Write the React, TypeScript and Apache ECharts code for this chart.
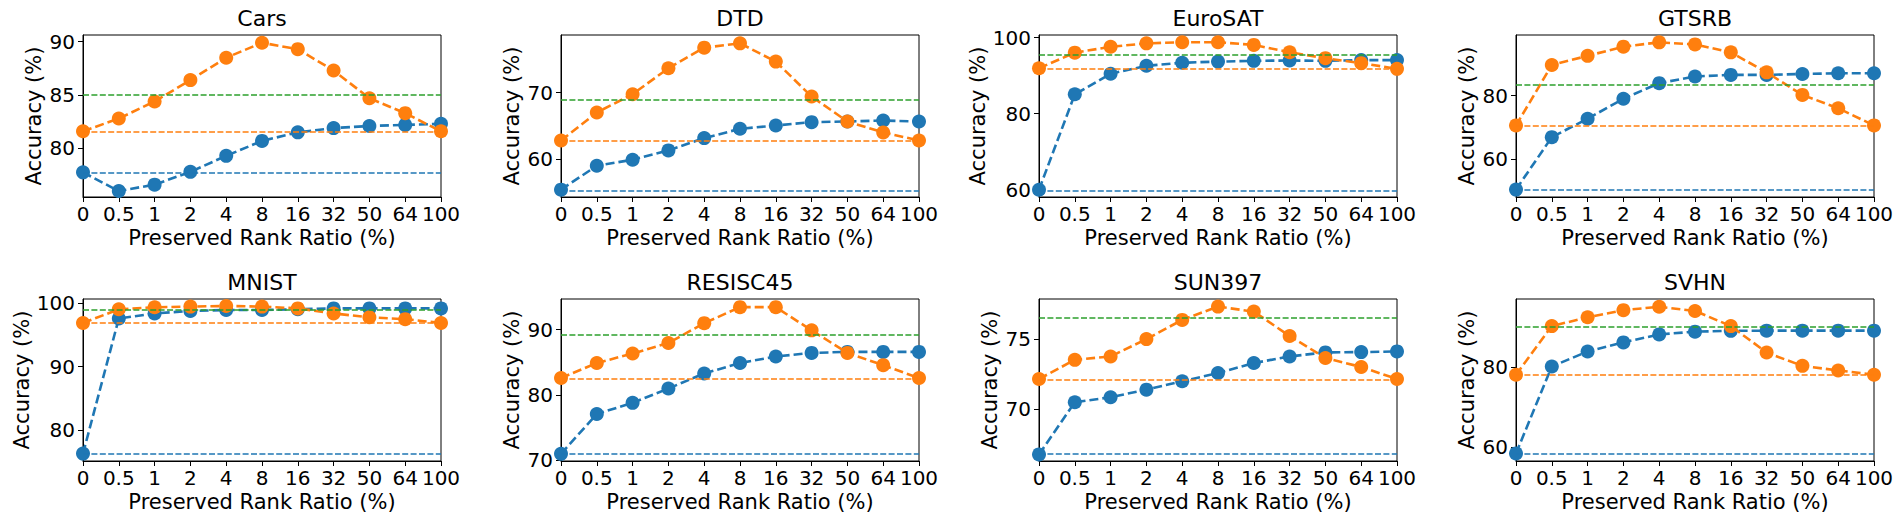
import React, { useEffect, useRef } from "react";
import * as echarts from "echarts";

const categories = ["0", "0.5", "1", "2", "4", "8", "16", "32", "50", "64", "100"];
const datasetNames = ["Cars", "DTD", "EuroSAT", "GTSRB", "MNIST", "RESISC45", "SUN397", "SVHN"];

const blueCars = [77.75, 76.0, 76.6, 77.8, 79.3, 80.7, 81.5, 81.9, 82.1, 82.2, 82.3];
const orangeCars = [81.6, 82.8, 84.4, 86.4, 88.5, 89.9, 89.3, 87.3, 84.7, 83.3, 81.6];
const blueDTD = [55.4, 59.0, 59.9, 61.3, 63.15, 64.55, 65.05, 65.55, 65.65, 65.8, 65.65];
const orangeDTD = [62.8, 67.0, 69.75, 73.65, 76.75, 77.4, 74.65, 69.4, 65.65, 64.0, 62.8];
const blueEuroSAT = [60.0, 85.1, 90.5, 92.6, 93.4, 93.7, 93.9, 94.0, 93.9, 94.1, 94.1];
const orangeEuroSAT = [91.95, 96.06, 97.6, 98.5, 98.8, 98.8, 98.1, 96.15, 94.6, 93.3, 91.8];
const blueGTSRB = [50.4, 66.9, 72.7, 79.0, 83.9, 86.0, 86.5, 86.5, 86.8, 87.0, 87.0];
const orangeGTSRB = [70.6, 89.6, 92.5, 95.4, 96.75, 96.1, 93.6, 87.3, 80.2, 76.0, 70.6];
const blueMNIST = [76.3, 97.6, 98.4, 98.8, 98.95, 98.95, 99.06, 99.2, 99.2, 99.2, 99.2];
const orangeMNIST = [96.9, 99.06, 99.37, 99.48, 99.58, 99.48, 99.2, 98.4, 97.8, 97.5, 96.9];
const blueRESISC45 = [71.0, 77.1, 78.8, 81.0, 83.3, 84.9, 85.9, 86.45, 86.6, 86.6, 86.6];
const orangeRESISC45 = [82.6, 84.9, 86.35, 87.97, 91.0, 93.45, 93.45, 89.9, 86.45, 84.57, 82.6];
const blueSUN397 = [66.75, 70.47, 70.83, 71.37, 71.97, 72.56, 73.27, 73.74, 74.03, 74.05, 74.1];
const orangeSUN397 = [72.13, 73.5, 73.74, 74.98, 76.35, 77.3, 76.94, 75.2, 73.63, 72.99, 72.13];
const blueSVHN = [58.4, 80.25, 84.0, 86.3, 88.3, 89.0, 89.2, 89.25, 89.25, 89.25, 89.25];
const orangeSVHN = [78.17, 90.4, 92.6, 94.4, 95.25, 94.2, 90.4, 83.75, 80.4, 79.25, 78.17];

const blueSeries = [blueCars, blueDTD, blueEuroSAT, blueGTSRB, blueMNIST, blueRESISC45, blueSUN397, blueSVHN];
const orangeSeries = [orangeCars, orangeDTD, orangeEuroSAT, orangeGTSRB, orangeMNIST, orangeRESISC45, orangeSUN397, orangeSVHN];

const baselineBlue = [77.75, 55.3, 59.8, 50.2, 76.3, 70.96, 66.82, 58.4];
const baselineOrange = [81.6, 62.8, 91.8, 70.6, 97.0, 82.5, 72.09, 78.17];
const baselineGreen = [85.0, 68.9, 95.6, 83.35, 98.95, 89.24, 76.5, 90.25];

const yMins = [75.44, 54.3, 58.08, 48.06, 75.13, 69.9, 66.28, 56.5];
const yMaxs = [90.63, 78.65, 100.7, 99.06, 100.68, 94.7, 77.84, 97.2];
const yTicks = [[80, 85, 90], [60, 70], [60, 80, 100], [60, 80], [80, 90, 100], [70, 80, 90], [70, 75], [60, 80]];

const BLUE = "#1f77b4";
const ORANGE = "#ff7f0e";
const GREEN = "#2ca02c";
const FONT = "DejaVu Sans";

export default function App() {
  const ref = useRef<HTMLDivElement>(null);
  useEffect(() => {
    if (!ref.current) return;
    const chart = echarts.init(ref.current, undefined, { renderer: "svg" });
    const lefts = [83, 561, 1039, 1516];
    const tops = [35, 299];
    const W = 358;
    const H = 162;
    const grids: any[] = [];
    const xAxes: any[] = [];
    const yAxes: any[] = [];
    const titles: any[] = [];
    const series: any[] = [];
    datasetNames.forEach((name, i) => {
      const col = i % 4;
      const row = Math.floor(i / 4);
      grids.push({
        left: lefts[col], top: tops[row], width: W, height: H,
        show: true, borderColor: "#000", borderWidth: 1, backgroundColor: "transparent",
      });
      titles.push({
        text: name, left: lefts[col] + W / 2, top: tops[row] - 28, textAlign: "center", padding: 0,
        textStyle: { fontFamily: FONT, fontSize: 22, fontWeight: "normal", color: "#000" },
      });
      xAxes.push({
        type: "category", gridIndex: i, data: categories, boundaryGap: false,
        name: "Preserved Rank Ratio (%)", nameLocation: "middle", nameGap: 30,
        nameTextStyle: { fontFamily: FONT, fontSize: 21, color: "#000" },
        axisLine: { show: true, lineStyle: { color: "#000", width: 1 } },
        axisTick: { show: true, interval: 0, length: 5, lineStyle: { color: "#000" } },
        axisLabel: { interval: 0, fontFamily: FONT, fontSize: 20, color: "#000", margin: 7 },
        splitLine: { show: false },
      });
      yAxes.push({
        type: "value", gridIndex: i, min: yMins[i], max: yMaxs[i],
        name: "Accuracy (%)", nameLocation: "middle", nameGap: 39, nameRotate: 90,
        nameTextStyle: { fontFamily: FONT, fontSize: 21, color: "#000" },
        axisLine: { show: true, lineStyle: { color: "#000", width: 1 } },
        axisTick: { show: true, length: 5, lineStyle: { color: "#000" }, customValues: yTicks[i] },
        axisLabel: { fontFamily: FONT, fontSize: 20, color: "#000", margin: 8, customValues: yTicks[i] },
        splitLine: { show: false },
      });
      const hline = (v: number, color: string) => ({
        silent: true, symbol: "none", label: { show: false },
        lineStyle: { color, width: 1.7, type: [6, 2.4] },
        data: [{ yAxis: v }],
      });
      series.push({
        type: "line", xAxisIndex: i, yAxisIndex: i, data: [], z: 1,
        markLine: hline(baselineBlue[i], BLUE),
      });
      series.push({
        type: "line", xAxisIndex: i, yAxisIndex: i, data: [], z: 1,
        markLine: hline(baselineOrange[i], ORANGE),
      });
      series.push({
        type: "line", xAxisIndex: i, yAxisIndex: i, data: [], z: 1,
        markLine: hline(baselineGreen[i], GREEN),
      });
      series.push({
        type: "line", xAxisIndex: i, yAxisIndex: i, data: blueSeries[i], z: 3,
        symbol: "circle", symbolSize: 14, showAllSymbol: true, clip: false,
        lineStyle: { color: BLUE, width: 2.6, type: [9, 4] },
        itemStyle: { color: BLUE, borderWidth: 0 },
      });
      series.push({
        type: "line", xAxisIndex: i, yAxisIndex: i, data: orangeSeries[i], z: 4,
        symbol: "circle", symbolSize: 14, showAllSymbol: true, clip: false,
        lineStyle: { color: ORANGE, width: 2.6, type: [9, 4] },
        itemStyle: { color: ORANGE, borderWidth: 0 },
      });
    });
    chart.setOption({
      animation: false,
      backgroundColor: "#fff",
      textStyle: { fontFamily: FONT },
      title: titles,
      grid: grids,
      xAxis: xAxes,
      yAxis: yAxes,
      series,
    });
    return () => chart.dispose();
  }, []);
  return (
    <div
      ref={ref}
      style={{ position: "fixed", left: 0, top: 0, width: 1903, height: 526, background: "#fff" }}
    />
  );
}
